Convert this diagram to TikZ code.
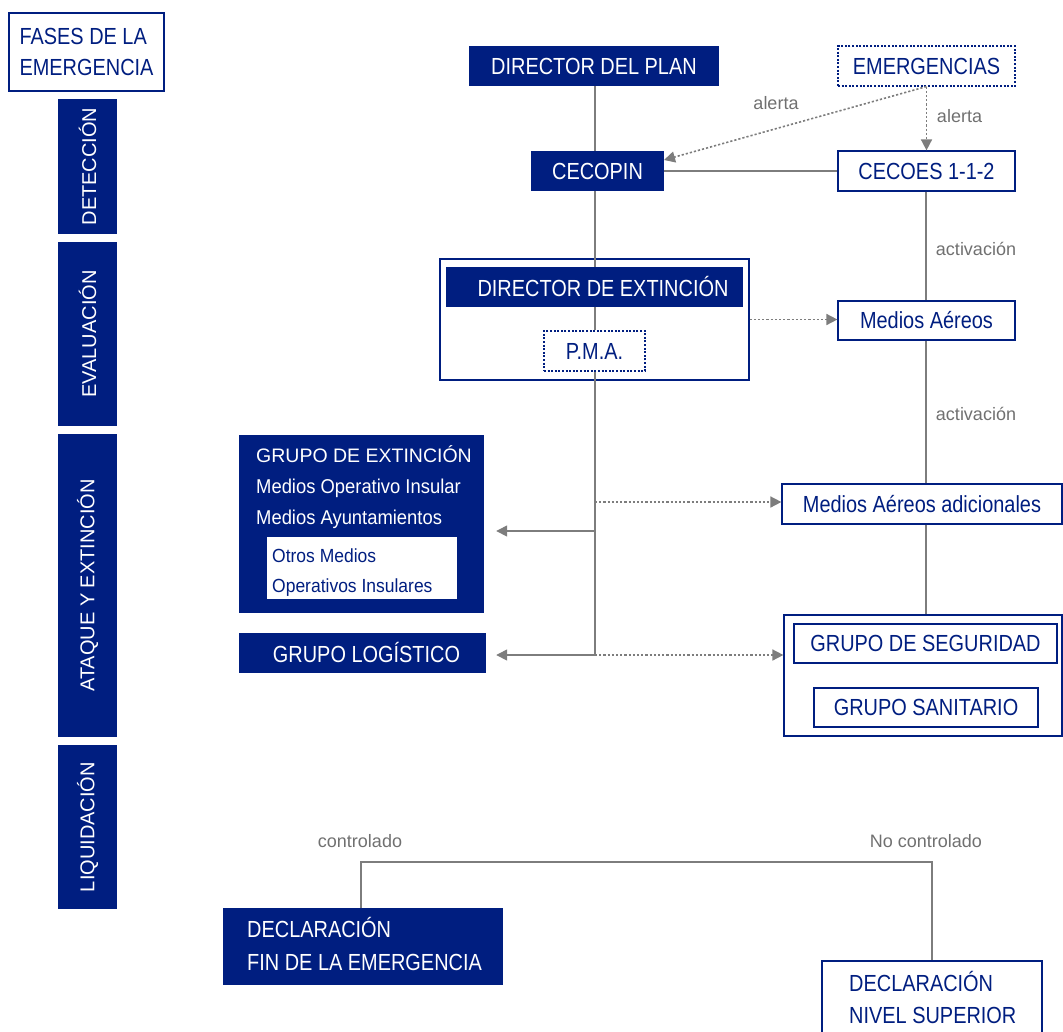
\documentclass[tikz,border=0pt]{standalone}
\usepackage{fontspec}
\setmainfont{Liberation Sans}
\newfontfamily\cf{Liberation Sans}[FakeStretch=0.855]
\newfontfamily\cfs{Liberation Sans}[FakeStretch=0.92]
\usetikzlibrary{arrows.meta}
\definecolor{navy}{RGB}{0,30,128}
\definecolor{lgray}{RGB}{125,125,125}
\definecolor{tgray}{RGB}{112,112,112}
\tikzset{
  big/.style={font=\cf\fontsize{23.3}{31}\selectfont},
  nbox/.style={fill=navy, draw=none, text=white, inner sep=0pt, big},
  wbox/.style={fill=white, draw=navy, line width=1.2pt, text=navy, inner sep=0pt, big},
  dbox/.style={wbox, line width=1.1pt, dash pattern=on 2pt off 1.6pt},
  obox/.style={draw=navy, line width=1.2pt, inner sep=0pt},
  phase/.style={fill=navy, text=white, rotate=90, inner sep=0pt, minimum height=59pt, font=\fontsize{20}{24}\selectfont},
  conn/.style={draw=lgray, line width=1.4pt},
  tipA/.style={-{Triangle[length=11pt,width=11pt]}},
  dotarr/.style={conn, line width=1.6pt, dash pattern=on 2.2pt off 2pt, tipA},
  solarr/.style={conn, tipA},
  lbl/.style={text=tgray, inner sep=0pt, font=\fontsize{18}{22}\selectfont},
  wtxt/.style={text=white, inner sep=0pt, anchor=base west},
  ntxt/.style={text=navy, inner sep=0pt, anchor=base west},
  sm/.style={font=\cfs\fontsize{20}{24}\selectfont}
}
\begin{document}
\begin{tikzpicture}[x=1pt,y=-1pt]
\useasboundingbox (0,0) rectangle (1063,1031);

% phases
\node[wbox, minimum width=155pt, minimum height=78pt, align=left] (fases) at (86.5,52) {FASES DE LA\\EMERGENCIA};
\node[phase, minimum width=135pt] (det) at (87.5,166.5) {DETECCIÓN};
\node[phase, minimum width=184pt] (eva) at (87.5,334) {EVALUACIÓN};
\node[phase, minimum width=303pt] (ata) at (87.5,585.5) {ATAQUE Y EXTINCIÓN};
\node[phase, minimum width=164pt] (liq) at (87.5,827) {LIQUIDACIÓN};

% junction coordinates
\coordinate (j0) at (595,502);
\coordinate (j1) at (595,531);
\coordinate (j2) at (595,655);
\coordinate (cin) at (664,160);
\coordinate (rx) at (926,0);
\coordinate (b1) at (361,862);
\coordinate (b2) at (932,862);

% outer box for director de extincion (no fill)
\node[obox, minimum width=309pt, minimum height=121pt] (outer) at (594.5,319.5) {};

% main column
\node[nbox, minimum width=250pt, minimum height=40pt] (dplan) at (594,66) {DIRECTOR DEL PLAN};
\node[nbox, minimum width=133pt, minimum height=40pt] (cecopin) at (597.5,171) {CECOPIN};
\node[nbox, minimum width=297pt, minimum height=40pt] (dext) at (594.5,287) {\hspace*{17pt}DIRECTOR DE EXTINCIÓN};
\node[dbox, minimum width=101pt, minimum height=40pt] (pma) at (594.5,351) {P.M.A.};

\draw[conn] (dplan.south -| j0) -- (cecopin.north -| j0);
\draw[conn] (cecopin.south -| j0) -- (dext.north -| j0);
\draw[conn] (dext.south -| j0) -- (pma.north -| j0);
\draw[conn] (pma.south -| j0) -- (j2);

% right column
\node[dbox, minimum width=177pt, minimum height=40pt] (emerg) at (926.5,66) {EMERGENCIAS};
\node[wbox, minimum width=177pt, minimum height=40pt] (cecoes) at (926.5,171) {CECOES 1-1-2};
\node[wbox, minimum width=177pt, minimum height=39pt] (maereos) at (926.5,320.5) {Medios Aéreos};
\node[wbox, minimum width=280pt, minimum height=40pt] (madic) at (922,504) {Medios Aéreos adicionales};
\node[wbox, minimum width=278pt, minimum height=121pt] (gbox) at (923,675.5) {};
\node[wbox, minimum width=263pt, minimum height=39pt] (gseg) at (925.5,643.5) {GRUPO DE SEGURIDAD};
\node[wbox, minimum width=224pt, minimum height=39pt] (gsan) at (926,707.5) {GRUPO SANITARIO};

\draw[conn] (cecopin.east) -- (cecoes.west);
\draw[dotarr] (emerg.south) -- (cecoes.north);
\draw[dotarr] (emerg.south) -- (cin);
\draw[conn] (cecoes.south -| rx) -- (maereos.north -| rx);
\draw[conn] (maereos.south -| rx) -- (madic.north -| rx);
\draw[conn] (madic.south -| rx) -- (gbox.north -| rx);
\draw[dotarr] (outer.east) -- (outer.east -| maereos.west);
\draw[dotarr] (j0) -- (j0 -| madic.west);
\draw[dotarr] (j2) -- (j2 -| gbox.west);

% labels
\node[lbl] (al1) at (776,103) {alerta};
\node[lbl] (al2) at (959.5,116) {alerta};
\node[lbl] (ac1) at (976,249) {activación};
\node[lbl] (ac2) at (976,414) {activación};

% left groups
\node[nbox, minimum width=245pt, minimum height=178pt] (gext) at (361.5,524) {};
\node[wtxt, font=\fontsize{19.5}{24}\selectfont] (gt1) at (256,462) {GRUPO DE EXTINCIÓN};
\node[wtxt, sm] (gt2) at (256,493) {Medios Operativo Insular};
\node[wtxt, sm] (gt3) at (256,524) {Medios Ayuntamientos};
\node[fill=white, draw=none, inner sep=0pt, minimum width=190pt, minimum height=62pt] (otros) at (362,568) {};
\node[ntxt, font=\cfs\fontsize{19}{24}\selectfont] (ot1) at (272,562) {Otros Medios};
\node[ntxt, font=\cfs\fontsize{19}{24}\selectfont] (ot2) at (272,592) {Operativos Insulares};
\node[nbox, minimum width=247pt, minimum height=40pt] (glog) at (362.5,653) {\hspace*{8pt}GRUPO LOGÍSTICO};

\draw[solarr, shorten >=12pt] (j1) -- (j1 -| gext.east);
\draw[solarr, shorten >=10pt] (j2) -- (j2 -| glog.east);

% liquidation
\node[lbl] (ctl) at (360,841) {controlado};
\node[lbl] (nctl) at (926,841) {No controlado};
\node[nbox, minimum width=280pt, minimum height=77pt] (dfin) at (363,946.5) {};
\node[wtxt, big] (df1) at (247,937) {DECLARACIÓN};
\node[wtxt, big] (df2) at (247,970) {FIN DE LA EMERGENCIA};
\node[wbox, minimum width=220pt, minimum height=80pt] (dsup) at (932,1001) {};
\node[ntxt, big] (ds1) at (849,991) {DECLARACIÓN};
\node[ntxt, big] (ds2) at (849,1023) {NIVEL SUPERIOR};
\draw[conn] (dfin.north -| b1) -- (b1) -- (b2) -- (dsup.north -| b2);
\end{tikzpicture}
\end{document}
